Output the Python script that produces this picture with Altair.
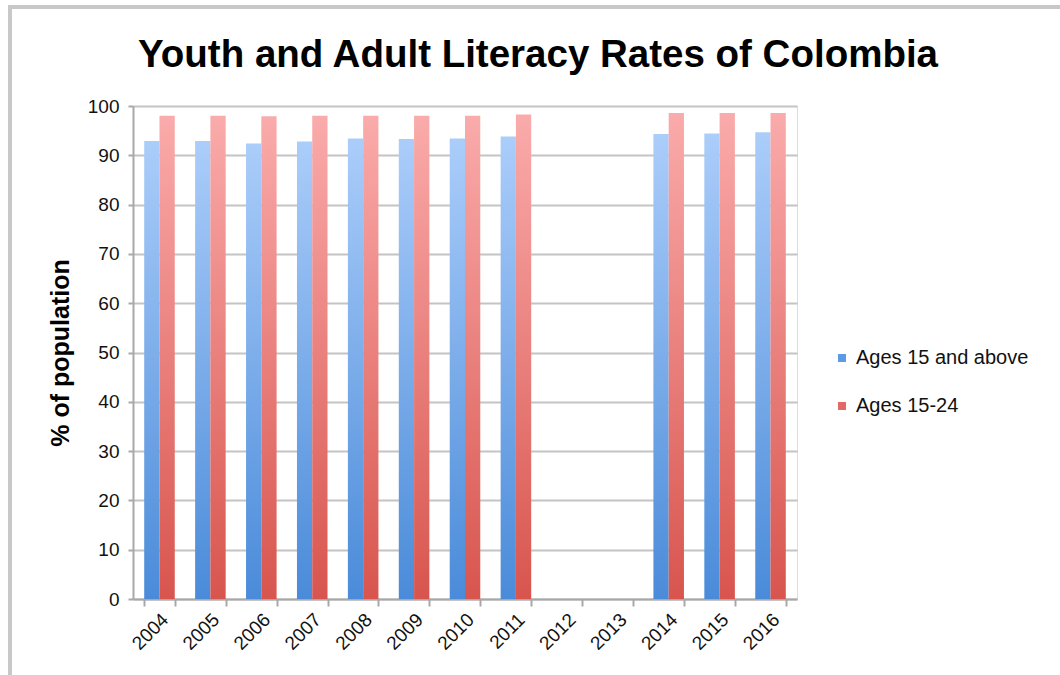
import altair as alt
import pandas as pd

years = ["2004", "2005", "2006", "2007", "2008", "2009", "2010", "2011",
         "2012", "2013", "2014", "2015", "2016"]
data_years = ["2004", "2005", "2006", "2007", "2008", "2009", "2010", "2011",
              "2014", "2015", "2016"]
adult = [92.9, 92.9, 92.4, 92.8, 93.4, 93.3, 93.4, 93.8, 94.3, 94.4, 94.7]
youth = [98.0, 98.0, 97.9, 98.0, 98.0, 98.0, 98.0, 98.3, 98.6, 98.6, 98.6]
series = ["Ages 15 and above", "Ages 15-24"]
yticks = [0, 10, 20, 30, 40, 50, 60, 70, 80, 90, 100]
title_text = "Youth and Adult Literacy Rates of Colombia"

rows = []
for y, v in zip(data_years, adult):
    rows.append({"year": y, "series": series[0], "value": v})
for y, v in zip(data_years, youth):
    rows.append({"year": y, "series": series[1], "value": v})
df = pd.DataFrame(rows)

FONT = "Liberation Sans"
L = 133
T = 106
W = 664
H = 493

blue_grad = alt.LinearGradient(
    gradient="linear", x1=0, x2=0, y1=0, y2=1,
    stops=[alt.GradientStop(color="#abcdfa", offset=0),
           alt.GradientStop(color="#4a8bd9", offset=1)])
red_grad = alt.LinearGradient(
    gradient="linear", x1=0, x2=0, y1=0, y2=1,
    stops=[alt.GradientStop(color="#faabab", offset=0),
           alt.GradientStop(color="#d8554e", offset=1)])

x_enc = alt.X("year:N", scale=alt.Scale(domain=years, paddingInner=0.40, paddingOuter=0.22),
              axis=alt.Axis(title=None, labelAngle=-45, labelFont=FONT, labelFontSize=19,
                            labelColor="#111", tickBand="extent", tickSize=7,
                            tickColor="#a8a8a8", tickWidth=2, domainColor="#a8a8a8",
                            domainWidth=2, labelPadding=4, labelOffset=-1, grid=False))
y_enc = alt.Y("value:Q", scale=alt.Scale(domain=[0, 100], nice=False),
              axis=alt.Axis(title="% of population", values=yticks, titleFont=FONT,
                            titleFontSize=25, titleFontWeight="bold", titleColor="#000",
                            titlePadding=14, labelFont=FONT, labelFontSize=19,
                            labelColor="#111", tickSize=5, tickColor="#a8a8a8",
                            tickWidth=2, domainColor="#a8a8a8", domainWidth=2,
                            labelPadding=9, gridColor="#c4c4c4", gridWidth=2))

bars = alt.Chart(df).mark_bar().encode(
    x=x_enc,
    xOffset=alt.XOffset("series:N", scale=alt.Scale(domain=series)),
    y=y_enc,
    color=alt.condition(alt.datum.series == series[0], alt.value(blue_grad), alt.value(red_grad)),
)

legend_layer = alt.Chart(df).transform_filter("false").mark_square().encode(
    color=alt.Color("series:N",
                    scale=alt.Scale(domain=series, range=["#5b9be3", "#e26a64"]),
                    legend=alt.Legend(title=None, orient="none", legendX=699, legendY=242,
                                      symbolType="square", symbolSize=64, symbolOpacity=1,
                                      labelFont=FONT, labelFontSize=20, labelColor="#111",
                                      labelLimit=400, rowPadding=28, labelOffset=4))
)

title_layer = alt.Chart(pd.DataFrame({"t": [title_text]})).mark_text(
    font=FONT, fontSize=38.5, fontWeight="bold", color="#000", align="center",
    baseline="alphabetic", clip=False
).encode(
    text="t:N", x=alt.value(538 - L), y=alt.value(67 - T)
)

border = alt.Chart(pd.DataFrame({"a": [0]})).mark_rect(
    fill=None, stroke="#c8c8c8", strokeWidth=4, clip=False
).encode(
    x=alt.value(10 - L), x2=alt.value(1075 - L),
    y=alt.value(7 - T), y2=alt.value(700 - T)
)

chart = alt.layer(bars, legend_layer, title_layer, border).properties(
    width=W, height=H,
    autosize=alt.AutoSizeParams(type="none"),
    padding={"left": L, "top": T, "right": 1060 - L - W, "bottom": 675 - T - H},
).configure_view(stroke=None).configure(background="white")

chart.save("out.html", embed_options={"renderer": "svg", "actions": False})
